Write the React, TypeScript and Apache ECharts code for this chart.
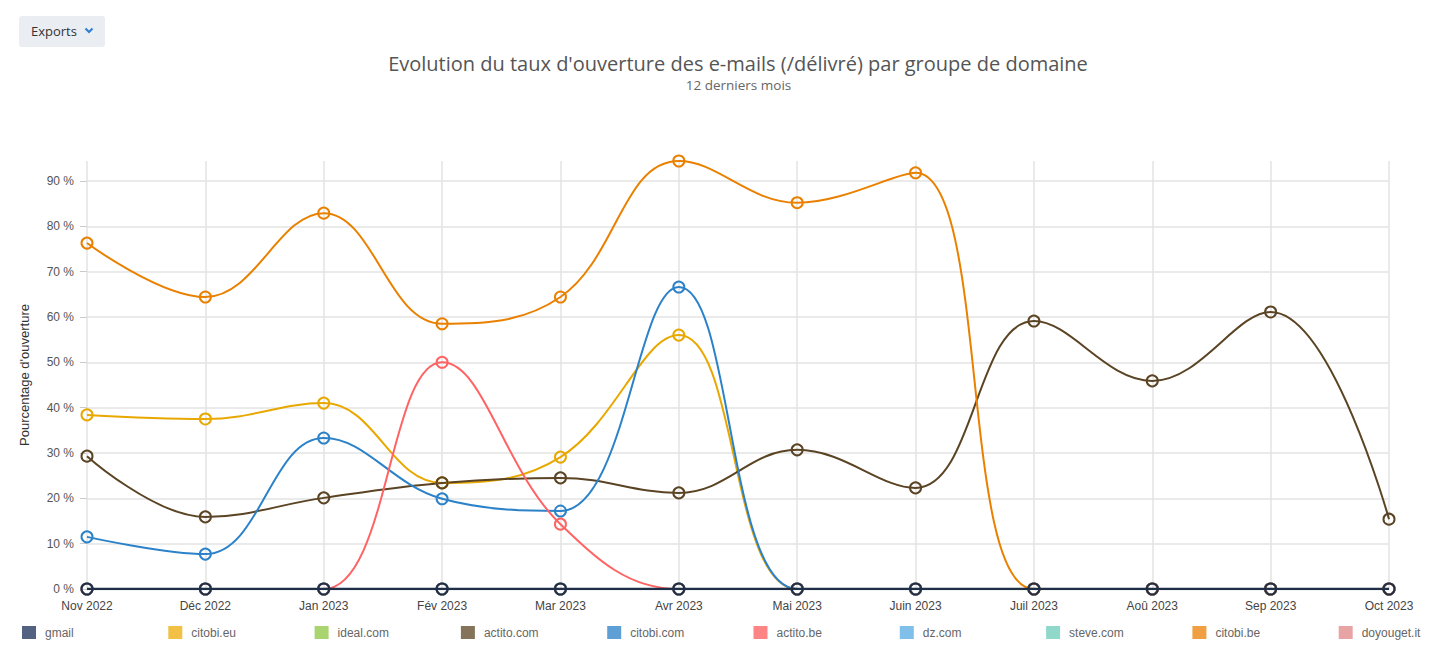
import React, { useEffect, useRef } from "react";
import * as echarts from "echarts";

const categories = [
  "Nov 2022", "Déc 2022", "Jan 2023", "Fév 2023", "Mar 2023", "Avr 2023",
  "Mai 2023", "Juin 2023", "Juil 2023", "Aoû 2023", "Sep 2023", "Oct 2023",
];

const gmail = [0, 0, 0, 0, 0, 0, 0, 0, 0, 0, 0, 0];
const citobiEu = [38.4, 37.5, 41.0, 23.4, 29.1, 56.0, 0, 0, 0, 0, 0, 0];
const idealCom = [0, 0, 0, 0, 0, 0, 0, 0, 0, 0, 0, 0];
const actitoCom = [29.3, 15.9, 20.1, 23.4, 24.5, 21.2, 30.7, 22.3, 59.1, 45.9, 61.1, 15.4];
const citobiCom = [11.5, 7.7, 33.3, 19.9, 17.2, 66.6, 0, 0, 0, 0, 0, 0];
const actitoBe = [0, 0, 0, 50.0, 14.3, 0, 0, 0, 0, 0, 0, 0];
const dzCom = [0, 0, 0, 0, 0, 0, 0, 0, 0, 0, 0, 0];
const steveCom = [0, 0, 0, 0, 0, 0, 0, 0, 0, 0, 0, 0];
const citobiBe = [76.3, 64.4, 82.9, 58.5, 64.4, 94.4, 85.2, 91.8, 0, 0, 0, 0];
const doyougetIt = [0, 0, 0, 0, 0, 0, 0, 0, 0, 0, 0, 0];

const yTicks = [0, 10, 20, 30, 40, 50, 60, 70, 80, 90];
const yMax = 94.4;

const seriesDefs = [
  { name: "gmail", data: gmail, line: "#1f2f48", legend: "#536280", z: 5, width: 2.5 },
  { name: "citobi.eu", data: citobiEu, line: "#e9a800", legend: "#f1c045", z: 2, width: 2 },
  { name: "ideal.com", data: idealCom, line: "#8cc63f", legend: "#a9d46f", z: 2, width: 2 },
  { name: "actito.com", data: actitoCom, line: "#5b4424", legend: "#85745a", z: 2, width: 2 },
  { name: "citobi.com", data: citobiCom, line: "#2b82c9", legend: "#5ea0d5", z: 2, width: 2 },
  { name: "actito.be", data: actitoBe, line: "#ff6363", legend: "#fd8585", z: 2, width: 2 },
  { name: "dz.com", data: dzCom, line: "#5dade2", legend: "#80bfea", z: 2, width: 2 },
  { name: "steve.com", data: steveCom, line: "#72cdbd", legend: "#8fd8ca", z: 2, width: 2 },
  { name: "citobi.be", data: citobiBe, line: "#ea8000", legend: "#f0a043", z: 2, width: 2 },
  { name: "doyouget.it", data: doyougetIt, line: "#e0868a", legend: "#e8a3a5", z: 2, width: 2 },
];

const AXIS_FONT = "'Liberation Sans', Arial, sans-serif";
const TITLE_FONT = "'Open Sans', sans-serif";
const LEGEND_LEFT = 22;
const LEGEND_STEP = 146.3;

export default function App() {
  const ref = useRef<HTMLDivElement>(null);

  useEffect(() => {
    if (!ref.current) return;
    const chart = echarts.init(ref.current, null, { renderer: "svg" });
    const option: any = {
      animation: false,
      backgroundColor: "#ffffff",
      graphic: [
        {
          type: "rect",
          shape: { x: 19, y: 16, width: 86, height: 31, r: 3 },
          style: { fill: "#eaeef2" },
        },
        {
          type: "text",
          x: 31,
          y: 31,
          style: {
            text: "Exports",
            font: `13px ${TITLE_FONT}`,
            fill: "#333333",
            textVerticalAlign: "middle",
          },
        },
        {
          type: "polyline",
          shape: { points: [[85.5, 28.5], [89, 32], [92.5, 28.5]] },
          style: { stroke: "#2a7fd0", lineWidth: 2, fill: null },
        },
        {
          type: "text",
          x: 738,
          y: 63,
          style: {
            text: "Evolution du taux d'ouverture des e-mails (/délivré) par groupe de domaine",
            font: `20px ${TITLE_FONT}`,
            fill: "#555555",
            textAlign: "center",
            textVerticalAlign: "middle",
          },
        },
        {
          type: "text",
          x: 738.5,
          y: 85,
          style: {
            text: "12 derniers mois",
            font: `13.5px ${TITLE_FONT}`,
            fill: "#666666",
            textAlign: "center",
            textVerticalAlign: "middle",
          },
        },
      ],
      grid: { left: 87, right: 47, top: 161, bottom: 69, containLabel: false },
      legend: seriesDefs.map((s, i) => ({
        left: LEGEND_LEFT + i * LEGEND_STEP,
        top: 626,
        padding: 0,
        icon: "rect",
        itemWidth: 14,
        itemHeight: 13,
        itemStyle: { borderWidth: 0 },
        selectedMode: false,
        textStyle: {
          fontSize: 12,
          color: "#666666",
          fontFamily: AXIS_FONT,
          padding: [0, 0, 0, 4],
        },
        data: [{ name: s.name, itemStyle: { color: s.legend } }],
      })),
      xAxis: {
        type: "category",
        data: categories,
        boundaryGap: false,
        axisLine: { show: true, lineStyle: { color: "#cccccc" } },
        axisTick: { show: false },
        axisLabel: { color: "#444444", fontSize: 12, fontFamily: AXIS_FONT, margin: 11 },
        splitLine: { show: true, lineStyle: { color: "#e3e3e3", width: 1.5 } },
      },
      yAxis: {
        type: "value",
        min: 0,
        max: yMax,
        interval: 10,
        name: "Pourcentage d'ouverture",
        nameLocation: "middle",
        nameGap: 56,
        nameTextStyle: { fontSize: 13, color: "#333333", fontFamily: AXIS_FONT },
        axisLine: { show: false },
        axisTick: {
          show: true,
          length: 7,
          customValues: yTicks,
          lineStyle: { color: "#cccccc" },
        },
        axisLabel: {
          customValues: yTicks,
          formatter: "{value} %",
          color: "#555555",
          fontSize: 12,
          fontFamily: AXIS_FONT,
          margin: 13,
        },
        splitLine: {
          show: true,
          lineStyle: { color: "#e3e3e3", width: 1.5 },
        },
      },
      series: seriesDefs.map((s) => ({
        type: "line",
        name: s.name,
        data: s.data,
        z: s.z,
        smooth: 0.4,
        symbol: "circle",
        symbolSize: 11,
        showSymbol: true,
        showAllSymbol: true,
        lineStyle: { color: s.line, width: s.width },
        itemStyle: { color: "transparent", borderColor: s.line, borderWidth: 2 },
        emphasis: { disabled: true },
      })),
    };
    chart.setOption(option);
    return () => chart.dispose();
  }, []);

  return (
    <div
      ref={ref}
      style={{ position: "fixed", left: 0, top: 0, width: 1436, height: 658 }}
    />
  );
}
